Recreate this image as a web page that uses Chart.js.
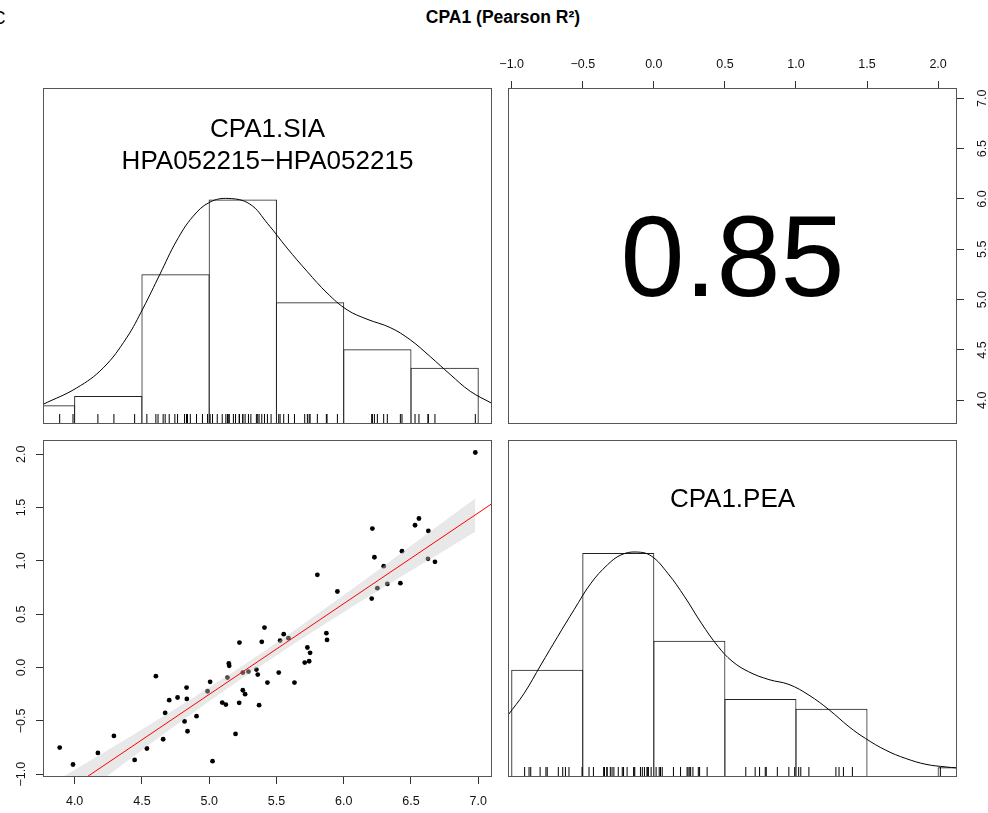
<!DOCTYPE html>
<html>
<head>
<meta charset="utf-8">
<script src="https://cdn.jsdelivr.net/npm/chart.js@4"></script>
<style>
  body { margin: 0; background: #fff; width: 988px; height: 813px; overflow: hidden; position: relative;
         font-family: "Liberation Sans", Arial, Helvetica, sans-serif; }
  canvas { position: absolute; }
  .txt { position: absolute; transform: translate(-50%, -50%); line-height: 1; white-space: nowrap; color: #000; }
</style>
</head>
<body>
<div class="txt" style="left:-1px;top:18px;font-size:18px;">C</div>
<div class="txt" style="left:503px;top:18px;font-size:17.5px;font-weight:bold;">CPA1 (Pearson R²)</div>

<canvas id="tl" width="449" height="336" style="left:43px;top:88px;"></canvas>
<canvas id="tr" width="493" height="374" style="left:495px;top:50px;"></canvas>
<canvas id="bl" width="492" height="373" style="left:0px;top:440px;"></canvas>
<canvas id="br" width="449" height="337" style="left:508px;top:440px;"></canvas>

<div class="txt" style="left:267.5px;top:128px;font-size:26px;">CPA1.SIA</div>
<div class="txt" style="left:267.5px;top:160px;font-size:26px;">HPA052215&minus;HPA052215</div>
<div class="txt" id="rtext" style="left:732.5px;top:256px;font-size:115px;"></div>
<div class="txt" style="left:732.5px;top:498px;font-size:26px;">CPA1.PEA</div>

<script>
// Axis ranges and tick labels
const sia_range = [3.765, 7.102];
const pea_range = [-1.026, 2.133];
const sia_ticks = [4.0, 4.5, 5.0, 5.5, 6.0, 6.5, 7.0];
const pea_ticks = [-1.0, -0.5, 0.0, 0.5, 1.0, 1.5, 2.0];

// Paired values (scatter points)
const sia_values = [3.889, 3.988, 4.173, 4.292, 4.446, 4.537, 4.604, 4.658, 4.673, 4.703,
  4.765, 4.817, 4.832, 4.834, 4.839, 4.906, 4.988, 5.007, 5.025, 5.097,
  5.124, 5.136, 5.146, 5.149, 5.196, 5.223, 5.225, 5.250, 5.250, 5.267,
  5.292, 5.351, 5.361, 5.371, 5.391, 5.411, 5.433, 5.517, 5.527, 5.554,
  5.589, 5.634, 5.710, 5.730, 5.743, 5.750, 5.804, 5.871, 5.876, 5.953,
  6.208, 6.213, 6.228, 6.250, 6.297, 6.324, 6.421, 6.433, 6.530, 6.559,
  6.629, 6.626, 6.678, 6.978];
const pea_values = [-0.750, -0.909, -0.800, -0.641, -0.866, -0.759, -0.081, -0.672, -0.425, -0.306,
  -0.281, -0.505, -0.188, -0.294, -0.597, -0.456, -0.222, -0.134, -0.878, -0.328,
  -0.347, -0.094, 0.038, 0.016, -0.622, -0.331, 0.234, -0.047, -0.213, -0.250,
  -0.038, -0.019, -0.066, -0.353, 0.241, 0.375, -0.141, -0.047, 0.253, 0.313,
  0.275, -0.141, 0.047, 0.188, 0.059, 0.138, 0.869, 0.322, 0.259, 0.713,
  0.647, 1.303, 1.034, 0.744, 0.950, 0.784, 0.791, 1.091, 1.334, 1.397,
  1.281, 1.019, 0.991, 2.016];
// SIA samples with no PEA value (rug only)
const sia_only = [4.62, 4.745, 4.86, 4.95, 5.06, 5.18, 5.31, 5.46];

// Histograms (bin starts, counts)
const bin_width = 0.5;
const sia_bins = [3.5, 4.0, 4.5, 5.0, 5.5, 6.0, 6.5];
const sia_counts = [2, 3, 16, 24, 13, 8, 6];
const pea_bins = [-1.0, -0.5, 0.0, 0.5, 1.0, 1.5, 2.0];
const pea_counts = [11, 23, 14, 8, 7, 0, 1];
const sia_hist_max = 35.9;
const pea_hist_max = 34.6;

// Density curves (in count units)
const sia_dens_x = [3.765, 4.015, 4.213, 4.386, 4.51, 4.634, 4.757, 4.881, 5.005, 5.141, 5.302, 5.435,
  5.579, 5.728, 5.876, 6.025, 6.173, 6.346, 6.494, 6.643, 6.791, 6.94, 7.102];
const sia_dens_y = [2.1, 3.85, 6.0, 9.2, 12.4, 16.0, 19.55, 22.2, 23.7, 24.1, 23.5, 21.4,
  18.8, 16.3, 14.0, 12.2, 11.2, 10.3, 9.0, 7.2, 5.3, 3.5, 2.2];
const pea_dens_x = [-1.026, -0.912, -0.795, -0.677, -0.56, -0.442, -0.325, -0.231, -0.125, -0.019, 0.099,
  0.217, 0.334, 0.452, 0.55, 0.668, 0.81, 0.951, 1.092, 1.233, 1.374, 1.49, 1.632, 1.773, 1.915, 2.056, 2.133];
const pea_dens_y = [6.35, 8.6, 11.5, 14.4, 17.2, 19.9, 21.8, 22.8, 23.1, 22.7, 20.9,
  18.5, 15.8, 13.4, 11.9, 10.8, 10.0, 9.5, 8.4, 6.9, 5.15, 3.95, 2.75, 1.9, 1.3, 1.03, 0.93];

// Regression line and confidence band
const reg_x = [3.765, 7.102];
const reg_y = [-1.303, 1.537];
const band_x = [3.889, 4.2, 4.5, 4.8, 5.1, 5.4, 5.7, 6.0, 6.3, 6.6, 6.978];
const band_lower = [-1.353, -1.058, -0.776, -0.497, -0.229, 0.030, 0.280, 0.519, 0.754, 0.985, 1.274];
const band_upper = [-1.043, -0.808, -0.580, -0.347, -0.105, 0.146, 0.408, 0.679, 0.954, 1.235, 1.588];

const r_value = "0.85";

const PANEL_W = 449;

Chart.defaults.font.family = '"Liberation Sans", Arial, Helvetica, sans-serif';
Chart.defaults.font.size = 12.5;
Chart.defaults.color = "#000";
Chart.defaults.animation = false;
Chart.defaults.plugins.legend.display = false;
Chart.defaults.plugins.tooltip.enabled = false;

document.getElementById("rtext").textContent = r_value;

// Box round each panel
const panelBox = {
  id: "panelBox",
  afterDraw(chart) {
    const a = chart.chartArea;
    const c = chart.ctx;
    c.save();
    c.strokeStyle = "#555";
    c.lineWidth = 1;
    c.strokeRect(a.left + 0.5, a.top + 0.5, a.right - a.left - 1, a.bottom - a.top - 1);
    c.restore();
  },
};

const fmt = (v) => v.toFixed(1).replace("-", "\u2212");
const setTicks = (values) => (scale) => {
  scale.ticks = values.map((v) => ({ value: v }));
};
const fixSize = (size) => (scale) => {
  if (scale.isHorizontal()) scale.height = size;
  else scale.width = size;
  scale.paddingLeft = scale.paddingRight = scale.paddingTop = scale.paddingBottom = 0;
};
const pts = (xs, ys) => xs.map((x, i) => ({ x: x, y: ys[i] }));

function axis(pos, range, ticks, size, pad, rotated) {
  return {
    type: "linear",
    position: pos,
    min: range[0],
    max: range[1],
    offset: false,
    afterBuildTicks: setTicks(ticks),
    afterFit: fixSize(size),
    border: { display: false },
    grid: { drawOnChartArea: false, drawTicks: true, tickLength: 7, color: "#333", offset: false },
    ticks: {
      callback: fmt,
      padding: pad,
      autoSkip: false,
      minRotation: rotated ? 90 : 0,
      maxRotation: rotated ? 90 : 0,
      crossAlign: rotated ? "center" : "near",
      color: "#111",
    },
  };
}

function hiddenAxis(range) {
  return { type: "linear", display: false, min: range[0], max: range[1], offset: false };
}

const baseOptions = (scales, padLeft) => ({
  responsive: false,
  animation: false,
  layout: { padding: { left: padLeft || 0, right: 0, top: 0, bottom: 0 }, autoPadding: false },
  scales: scales,
});

// Diagonal histogram panel
function histPanel(id, bins, counts, densX, densY, rug, range, yMax) {
  const barPx = (bin_width / (range[1] - range[0])) * PANEL_W + 1;
  new Chart(document.getElementById(id), {
    type: "scatter",
    data: {
      datasets: [
        {
          type: "line",
          data: pts(densX, densY),
          borderColor: "#000",
          borderWidth: 1,
          pointRadius: 0,
          tension: 0.4,
          order: 1,
        },
        {
          type: "scatter",
          data: rug.map((v) => ({ x: v, y: 0 })),
          pointStyle: "line",
          pointRadius: 10,
          pointRotation: 90,
          pointBorderWidth: 1,
          pointBorderColor: "#000",
          clip: 0,
          order: 2,
        },
        {
          type: "bar",
          data: pts(bins.map((b) => b + bin_width / 2), counts),
          backgroundColor: "rgba(0,0,0,0)",
          borderColor: "#222",
          borderWidth: 1,
          borderSkipped: false,
          inflateAmount: 0,
          barThickness: barPx,
          order: 3,
        },
      ],
    },
    options: baseOptions({ x: hiddenAxis(range), y: hiddenAxis([0, yMax]) }),
    plugins: [panelBox],
  });
}

histPanel("tl", sia_bins, sia_counts, sia_dens_x, sia_dens_y, sia_values.concat(sia_only), sia_range, sia_hist_max);
histPanel("br", pea_bins, pea_counts, pea_dens_x, pea_dens_y, pea_values, pea_range, pea_hist_max);

// Correlation panel: axes only
new Chart(document.getElementById("tr"), {
  type: "scatter",
  data: { datasets: [] },
  options: baseOptions({
    x: axis("top", pea_range, pea_ticks, 38, 8.5, false),
    y: axis("right", sia_range, sia_ticks, 31, 10.3, true),
  }, 13),
  plugins: [panelBox],
});

// Scatter panel
new Chart(document.getElementById("bl"), {
  type: "scatter",
  data: {
    datasets: [
      {
        type: "line",
        data: pts(reg_x, reg_y),
        borderColor: "#ff0000",
        borderWidth: 1,
        pointRadius: 0,
        order: 1,
      },
      {
        type: "line",
        data: pts(band_x, band_lower),
        borderWidth: 0,
        pointRadius: 0,
        tension: 0.3,
        order: 2,
      },
      {
        type: "line",
        data: pts(band_x, band_upper),
        borderWidth: 0,
        pointRadius: 0,
        tension: 0.3,
        fill: "-1",
        backgroundColor: "rgba(200,200,200,0.42)",
        order: 2,
      },
      {
        type: "scatter",
        data: pts(sia_values, pea_values),
        pointRadius: 2.4,
        pointBorderWidth: 0,
        pointBackgroundColor: "#000",
        order: 3,
      },
    ],
  },
  options: baseOptions({
    x: axis("bottom", sia_range, sia_ticks, 36, 10.2, false),
    y: axis("left", pea_range, pea_ticks, 43, 2.2, true),
  }),
  plugins: [panelBox],
});
</script>
</body>
</html>
